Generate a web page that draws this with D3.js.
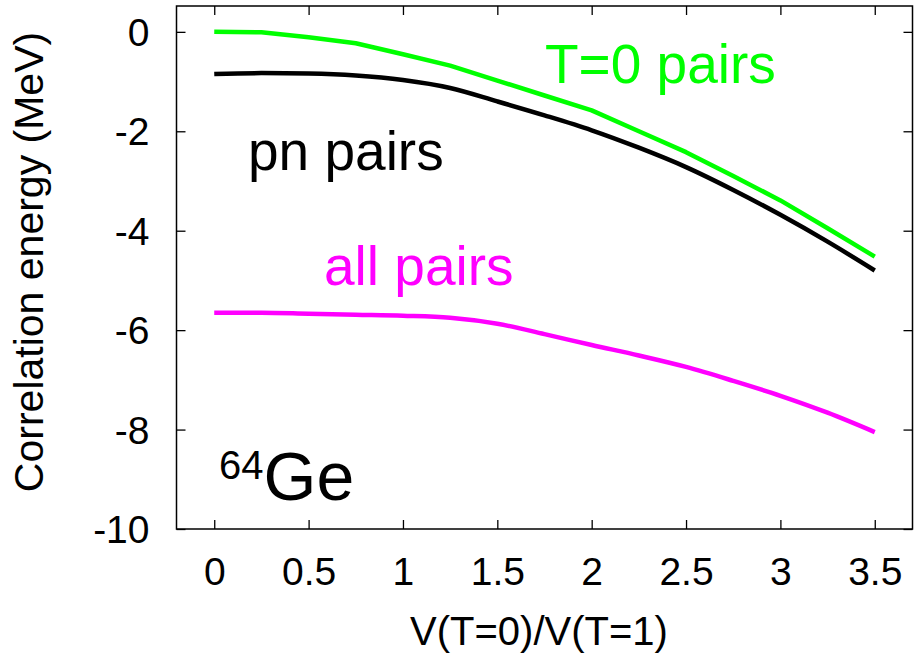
<!DOCTYPE html>
<html>
<head>
<meta charset="utf-8">
<script src="https://cdn.jsdelivr.net/npm/d3@7"></script>
<style>
  html, body { margin: 0; padding: 0; background: #fff; }
  svg { display: block; font-family: "Liberation Sans", Arial, sans-serif; }
</style>
</head>
<body>
<svg id="chart" width="914" height="658"></svg>
<script>
// Ratio of isoscalar to isovector pairing strength
const ratio = [0, 0.25, 0.5, 0.75, 1.0, 1.25, 1.5, 1.75, 2.0, 2.25, 2.5, 2.75, 3.0, 3.25, 3.5];

// Correlation energies (MeV)
const t0Pairs  = [0.0, -0.01, -0.11, -0.23, -0.45, -0.68, -0.98, -1.28, -1.58, -2.0, -2.42, -2.9, -3.39, -3.95, -4.52];
const pnPairs  = [-0.85, -0.83, -0.84, -0.88, -0.97, -1.13, -1.40, -1.68, -1.98, -2.33, -2.72, -3.18, -3.68, -4.22, -4.80];
const allPairs = [-5.65, -5.65, -5.67, -5.69, -5.71, -5.75, -5.87, -6.08, -6.30, -6.51, -6.74, -7.02, -7.32, -7.66, -8.05];

const xTicks = [0, 0.5, 1, 1.5, 2, 2.5, 3, 3.5];
const yTicks = [0, -2, -4, -6, -8, -10];

const svg = d3.select("#chart");
const L = 176.5, R = 912.5, T = 6, B = 529;

const x = d3.scaleLinear().domain([-0.2, 3.7]).range([L, R]);
const y = d3.scaleLinear().domain([-10, 0.52]).range([B, T]);

const tickLen = 9;
const plainNumber = d => String(d);   // keep an ASCII hyphen for negatives

// frame
svg.append("rect")
  .attr("x", L).attr("y", T).attr("width", R - L).attr("height", B - T)
  .attr("fill", "none").attr("stroke", "#000").attr("stroke-width", 1.5);

// inward ticks on all four sides
const bottomAxis = d3.axisBottom(x).tickValues(xTicks).tickSize(-tickLen).tickFormat(plainNumber).tickPadding(0);
const topAxis = d3.axisTop(x).tickValues(xTicks).tickSize(-tickLen).tickFormat("");
const leftAxis = d3.axisLeft(y).tickValues(yTicks).tickSize(-tickLen).tickFormat(plainNumber);
const rightAxis = d3.axisRight(y).tickValues(yTicks).tickSize(-tickLen).tickFormat("");

function styleAxis(g) {
  g.select(".domain").remove();
  g.selectAll(".tick line").attr("stroke", "#000").attr("stroke-width", 1.3);
  g.selectAll(".tick text").attr("fill", "#000").attr("font-size", 39)
    .attr("font-family", "Liberation Sans, Arial, sans-serif");
}

const gb = svg.append("g").attr("transform", `translate(0,${B})`).call(bottomAxis).call(styleAxis);
gb.selectAll(".tick text").attr("dy", null).attr("y", 56);
svg.append("g").attr("transform", `translate(0,${T})`).call(topAxis).call(styleAxis);
const gl = svg.append("g").attr("transform", `translate(${L},0)`).call(leftAxis).call(styleAxis);
gl.selectAll(".tick text").attr("x", -27).attr("dy", "0.35em");
svg.append("g").attr("transform", `translate(${R},0)`).call(rightAxis).call(styleAxis);

// curves
const series = [
  { values: t0Pairs,  color: "#00ff00", curve: d3.curveLinear },
  { values: pnPairs,  color: "#000000", curve: d3.curveMonotoneX },
  { values: allPairs, color: "#ff00ff", curve: d3.curveMonotoneX }
];

series.forEach(s => {
  const line = d3.line()
    .x((d, i) => x(ratio[i]))
    .y(d => y(d))
    .curve(s.curve);
  svg.append("path")
    .datum(s.values)
    .attr("d", line)
    .attr("fill", "none")
    .attr("stroke", s.color)
    .attr("stroke-width", 4.5)
    .attr("stroke-linejoin", "round");
});

// curve labels
svg.append("text").attr("x", 545).attr("y", 83).attr("font-size", 55).attr("fill", "#00ff00").text("T=0 pairs");
svg.append("text").attr("x", 248).attr("y", 170).attr("font-size", 55).attr("fill", "#000").text("pn pairs");
svg.append("text").attr("x", 324).attr("y", 285).attr("font-size", 55).attr("fill", "#ff00ff").text("all pairs");

// nucleus label
const nuc = svg.append("text").attr("x", 219).attr("y", 500).attr("fill", "#000");
nuc.append("tspan").attr("font-size", 40).attr("dy", -21).text("64");
nuc.append("tspan").attr("font-size", 68).attr("dy", 21).text("Ge");

// axis titles
svg.append("text").attr("x", 539).attr("y", 645).attr("text-anchor", "middle")
  .attr("font-size", 40).attr("fill", "#000").text("V(T=0)/V(T=1)");
svg.append("text").attr("transform", "translate(43,262) rotate(-90)").attr("text-anchor", "middle")
  .attr("font-size", 41).attr("fill", "#000").text("Correlation energy (MeV)");
</script>
</body>
</html>
